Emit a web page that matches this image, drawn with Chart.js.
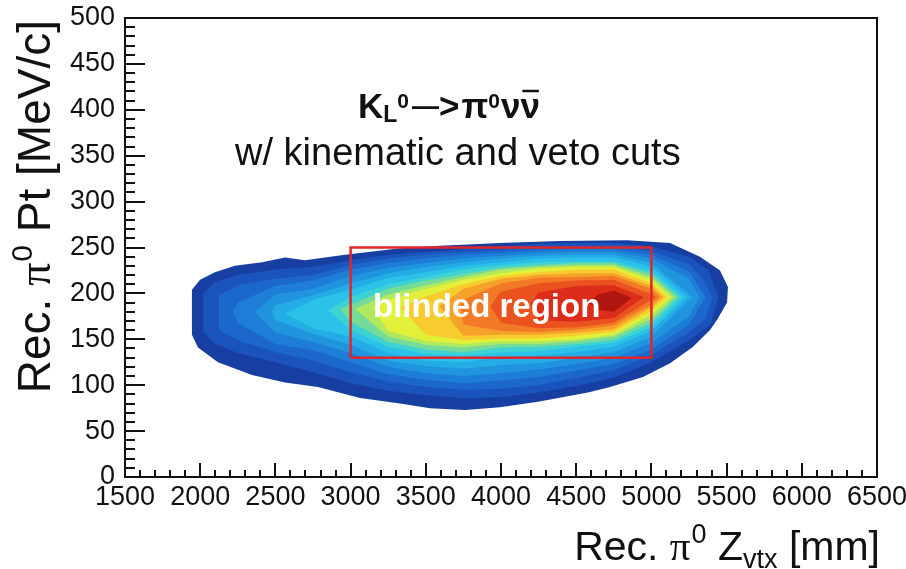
<!DOCTYPE html>
<html lang="en">
<head>
<meta charset="UTF-8">
<title>KL0 -> pi0 nu nubar, Pt vs Zvtx</title>
<script src="https://cdnjs.cloudflare.com/ajax/libs/Chart.js/4.4.0/chart.umd.min.js"></script>
<style>
  html, body { margin: 0; padding: 0; background: #fff; }
  .chart-container { position: relative; width: 906px; height: 569px; }
</style>
</head>
<body>
<div class="chart-container"><canvas id="chart"></canvas></div>
<script>
// axis ranges
const xRange = [1500, 6500];
const yRange = [0, 500];

// blinded box (Zvtx mm, Pt MeV/c)
const blindX = [3000, 5000];
const blindY = [130, 250];

// contour outlines, outermost first: [Zvtx, Pt]
const level01 = [[1945,204],[1999,215],[2098,223],[2231,230],[2411,234],[2564,239],[2697,236],[2963,242],[3315,249],[3594,252],[3993,255],[4392,257],[4838,258],[5124,255],[5323,240],[5456,225],[5509,207],[5503,190],[5436,171],[5390,160],[5277,142],[5124,124],[4944,109],[4725,98],[4578,92],[4246,82],[3993,76],[3761,73],[3528,75],[3328,80],[3063,86],[2783,98],[2564,103],[2344,111],[2118,125],[1985,141],[1945,155]];
const level02 = [[2020,200],[2100,213],[2250,220],[2500,226],[2750,229],[3000,236],[3250,242],[3500,245],[3750,248],[4000,251],[4250,254],[4500,255],[4750,255],[5000,251],[5250,240],[5380,225],[5445,196],[5395,166],[5250,149],[5000,125],[4750,108],[4500,99],[4250,92],[4000,87],[3750,86],[3500,89],[3250,94],[3000,102],[2750,114],[2500,125],[2250,135],[2100,145],[2020,158]];
const level03 = [[2125,198],[2250,209],[2500,216],[2750,220],[3000,231],[3250,238],[3500,242],[3750,245],[4000,247],[4250,250],[4500,252],[4750,252],[5000,246],[5250,232],[5345,215],[5405,196],[5360,172],[5250,158],[5000,133],[4750,116],[4500,108],[4250,100],[4000,96],[3750,95],[3500,98],[3250,104],[3000,114],[2750,127],[2500,136],[2250,149],[2125,160]];
const level04 = [[2215,180],[2250,190],[2500,208],[2750,214],[3000,226],[3250,233],[3500,238],[3750,242],[4000,244],[4250,247],[4500,248],[4750,248],[5000,242],[5250,224],[5360,196],[5250,166],[5000,139],[4750,123],[4500,116],[4250,109],[4000,105],[3750,102],[3500,106],[3250,112],[3000,125],[2750,138],[2500,145],[2250,168]];
const level05 = [[2364,180],[2500,199],[2750,205],[3000,219],[3250,228],[3500,233],[3750,238],[4000,241],[4250,244],[4500,245],[4750,245],[5000,238],[5250,216],[5320,196],[5250,175],[5000,146],[4750,130],[4500,123],[4250,117],[4000,113],[3750,110],[3500,113],[3250,120],[3000,135],[2750,147],[2500,157]];
const level06 = [[2477,180],[2500,187],[2750,198],[3000,211],[3250,222],[3500,229],[3750,234],[4000,238],[4250,241],[4500,242],[4750,242],[5000,233],[5270,196],[5000,153],[4750,136],[4500,130],[4250,124],[4000,122],[3750,118],[3500,121],[3250,127],[3000,144],[2750,156],[2500,171]];
const level07 = [[2564,178],[2750,193],[3000,204],[3250,217],[3500,223],[3750,230],[4000,234],[4250,238],[4500,239],[4750,239],[5000,229],[5235,196],[5000,159],[4750,142],[4500,136],[4250,132],[4000,131],[3750,125],[3500,127],[3250,135],[3000,153],[2750,162]];
const level08 = [[2850,182],[3000,196],[3250,210],[3500,218],[3750,226],[4000,231],[4250,234],[4500,235],[4750,235],[5000,224],[5205,196],[5000,163],[4750,146],[4500,142],[4250,137],[4000,136],[3750,132],[3500,134],[3250,142],[3000,160]];
const level09 = [[2930,183],[3000,188],[3250,205],[3500,214],[3750,221],[4000,228],[4250,231],[4500,233],[4750,233],[5000,221],[5180,196],[5000,168],[4750,149],[4500,145],[4250,142],[4000,141],[3750,136],[3500,139],[3250,147],[3000,169]];
const level10 = [[3029,183],[3250,199],[3500,209],[3750,218],[4000,226],[4250,229],[4500,231],[4750,231],[5000,218],[5155,196],[5000,172],[4750,153],[4500,148],[4250,145],[4000,145],[3750,141],[3500,144],[3250,153]];
const level11 = [[3150,184],[3250,193],[3500,205],[3750,215],[4000,222],[4250,227],[4500,229],[4750,229],[5000,215],[5130,196],[5000,177],[4750,155],[4500,150],[4250,148],[4000,148],[3750,145],[3500,148],[3250,159]];
const level12 = [[3330,185],[3500,197],[3750,210],[4000,219],[4250,223],[4500,226],[4750,226],[5000,211],[5105,196],[5000,181],[4750,158],[4500,154],[4250,151],[4000,151],[3750,149],[3500,155]];
const level13 = [[3590,186],[3750,205],[4000,216],[4250,220],[4500,222],[4750,222],[5000,208],[5080,196],[5000,185],[4750,161],[4500,157],[4250,155],[4000,155],[3750,154]];
const level14 = [[3730,187],[3750,193],[4000,211],[4250,217],[4500,218],[4750,219],[5000,205],[5055,196],[5000,188],[4750,165],[4500,160],[4250,158],[4000,159],[3750,166]];
const level15 = [[3930,186],[4000,202],[4250,211],[4500,214],[4750,215],[5000,199],[5030,196],[5000,193],[4750,168],[4500,163],[4250,162],[4000,168]];
const level16 = [[4200,189],[4250,201],[4500,208],[4750,209],[4950,196],[4750,173],[4500,169],[4250,171]];
const level17 = [[4580,190],[4650,199],[4750,203],[4870,195],[4750,180],[4650,182]];

const levelColors = [
  '#173fa2', '#1a53bc', '#1c67cb', '#1e7dd6', '#2095de', '#23ace5',
  '#2ac2e9', '#3fd2d2', '#74dc98', '#b0e95e', '#e2f03a', '#f8cc2e',
  '#f6a22a', '#f27a26', '#ea5220', '#dc2c1a', '#b01610'
];

const levels = [level01, level02, level03, level04, level05, level06, level07, level08, level09,
                level10, level11, level12, level13, level14, level15, level16, level17];

const SANS = '"Liberation Sans", Arial, Helvetica, sans-serif';
const SERIF = '"Liberation Serif", "Times New Roman", serif';

// fill each contour polygon from its point elements (positions come from the x/y scales)
const contourFill = {
  id: 'contourFill',
  beforeDatasetsDraw(chart) {
    const ctx = chart.ctx;
    chart.data.datasets.forEach((ds, i) => {
      if (!ds.contour) return;
      const pts = chart.getDatasetMeta(i).data;
      ctx.save();
      ctx.beginPath();
      pts.forEach((p, j) => j ? ctx.lineTo(p.x, p.y) : ctx.moveTo(p.x, p.y));
      ctx.closePath();
      ctx.fillStyle = ds.backgroundColor;
      ctx.fill();
      ctx.restore();
    });
  }
};

// draws a row of text pieces with their own font / vertical shift
function drawRuns(ctx, runs, x, y) {
  let cx = x;
  const spans = [];
  for (const r of runs) {
    ctx.font = r.font;
    const w = ctx.measureText(r.text).width;
    ctx.fillText(r.text, cx, y + (r.dy || 0));
    spans.push([cx, w]);
    cx += w + (r.gap || 0);
  }
  return spans;
}

function runsWidth(ctx, runs) {
  let w = 0;
  for (const r of runs) {
    ctx.font = r.font;
    w += ctx.measureText(r.text).width + (r.gap || 0);
  }
  return w;
}

const decayRuns = [
  { text: 'K', font: `bold 35px ${SANS}` },
  { text: 'L', font: `bold 23px ${SANS}`, dy: 4 },
  { text: '0', font: `bold 21px ${SANS}`, dy: -10, gap: 3 },
  { text: '\u2014', font: `bold 27px ${SANS}`, dy: -3 },
  { text: '>', font: `bold 35px ${SANS}`, gap: 2 },
  { text: '\u03c0', font: `bold 35px ${SANS}` },
  { text: '0', font: `bold 21px ${SANS}`, dy: -10, gap: 1 },
  { text: '\u03bd', font: `bold 35px ${SANS}` },
  { text: '\u03bd', font: `bold 35px ${SANS}` }
];

const yTitleRuns = [
  { text: 'Rec. ', font: `46px ${SANS}` },
  { text: '\u03c0', font: `46px ${SERIF}`, gap: 1 },
  { text: '0', font: `30px ${SANS}`, dy: -18 },
  { text: ' Pt [MeV/c]', font: `46px ${SANS}` }
];

const xTitleRuns = [
  { text: 'Rec. ', font: `41px ${SANS}` },
  { text: '\u03c0', font: `41px ${SERIF}`, gap: 1 },
  { text: '0', font: `27px ${SANS}`, dy: -17 },
  { text: ' Z', font: `41px ${SANS}` },
  { text: 'vtx', font: `27px ${SANS}`, dy: 8 },
  { text: ' [mm]', font: `41px ${SANS}` }
];

// inward tick marks along the bottom and left edges, at the scales' own tick values
function drawTickMarks(ctx, scale, len, area) {
  ctx.beginPath();
  scale.ticks.forEach(t => {
    const p = Math.round(scale.getPixelForValue(t.value));
    if (scale.isHorizontal()) {
      ctx.moveTo(p, area.bottom);
      ctx.lineTo(p, area.bottom - len);
    } else {
      ctx.moveTo(area.left, p);
      ctx.lineTo(area.left + len, p);
    }
  });
  ctx.stroke();
}

const annotations = {
  id: 'annotations',
  afterDatasetsDraw(chart) {
    const ctx = chart.ctx;
    ctx.save();
    ctx.textBaseline = 'alphabetic';
    ctx.textAlign = 'left';

    ctx.fillStyle = '#ffffff';
    ctx.font = `bold 33px ${SANS}`;
    ctx.fillText('blinded region', 373, 317);

    ctx.fillStyle = '#111';
    const spans = drawRuns(ctx, decayRuns, 358, 118);
    const [bx, bw] = spans[spans.length - 1];
    ctx.strokeStyle = '#111';
    ctx.lineWidth = 2.5;
    ctx.beginPath();
    ctx.moveTo(bx + 2, 91);
    ctx.lineTo(bx + bw - 1, 91);
    ctx.stroke();

    ctx.font = `38px ${SANS}`;
    ctx.fillText('w/ kinematic and veto cuts', 235, 165);
    ctx.restore();
  },
  afterDraw(chart) {
    const ctx = chart.ctx;
    const area = chart.chartArea;
    const s = chart.scales;
    ctx.save();
    ctx.fillStyle = '#111';
    ctx.strokeStyle = '#111';
    ctx.textBaseline = 'alphabetic';
    ctx.textAlign = 'left';

    // frame and ticks
    ctx.lineWidth = 2;
    ctx.strokeRect(area.left, area.top, area.right - area.left, area.bottom - area.top);
    drawTickMarks(ctx, s.x, 14, area);
    drawTickMarks(ctx, s.xMinor, 7, area);
    drawTickMarks(ctx, s.y, 20, area);
    drawTickMarks(ctx, s.yMinor, 10, area);

    // x title, right-aligned to the end of the axis
    const xw = runsWidth(ctx, xTitleRuns);
    drawRuns(ctx, xTitleRuns, area.right + 3 - xw, 560);

    // y title, rotated, ending at the top of the axis
    const yw = runsWidth(ctx, yTitleRuns);
    ctx.translate(50, area.top + 2 + yw);
    ctx.rotate(-Math.PI / 2);
    drawRuns(ctx, yTitleRuns, 0, 0);
    ctx.restore();
  }
};

const datasets = [
  {
    type: 'line',
    data: [
      { x: blindX[0], y: blindY[0] }, { x: blindX[1], y: blindY[0] },
      { x: blindX[1], y: blindY[1] }, { x: blindX[0], y: blindY[1] },
      { x: blindX[0], y: blindY[0] }
    ],
    borderColor: '#e0252b',
    borderWidth: 2.5,
    pointRadius: 0,
    fill: false,
    tension: 0,
    xAxisID: 'x',
    yAxisID: 'y'
  }
].concat(levels.map((lvl, i) => ({
  contour: true,
  data: lvl.map(([x, y]) => ({ x, y })),
  backgroundColor: levelColors[i],
  pointRadius: 0,
  showLine: false,
  xAxisID: 'x',
  yAxisID: 'y'
})));

const tickFont = { family: SANS, size: 27 };
const noGrid = { display: false, drawTicks: false };

new Chart(document.getElementById('chart'), {
  type: 'scatter',
  data: { datasets },
  options: {
    responsive: true,
    maintainAspectRatio: false,
    animation: false,
    events: [],
    layout: { padding: { top: 18, right: 29, left: 0, bottom: 0 } },
    plugins: { legend: { display: false }, tooltip: { enabled: false } },
    scales: {
      x: {
        type: 'linear', position: 'bottom', weight: 1,
        min: xRange[0], max: xRange[1],
        ticks: { stepSize: 500, font: tickFont, color: '#111', padding: 4, maxRotation: 0, autoSkip: false,
                 callback: v => String(v) },
        grid: noGrid,
        border: { display: false },
        afterFit: s => { s.height = 92; s.paddingLeft = 0; s.paddingRight = 0; }
      },
      xMinor: {
        type: 'linear', position: 'bottom', weight: 0,
        min: xRange[0], max: xRange[1],
        ticks: { stepSize: 100, display: false, autoSkip: false },
        grid: noGrid,
        border: { display: false },
        afterFit: s => { s.height = 0; s.paddingLeft = 0; s.paddingRight = 0; }
      },
      y: {
        type: 'linear', position: 'left', weight: 1,
        min: yRange[0], max: yRange[1],
        ticks: { stepSize: 50, font: tickFont, color: '#111', padding: 10, autoSkip: false,
                 callback: v => String(v) },
        grid: noGrid,
        border: { display: false },
        afterFit: s => { s.width = 125; s.paddingTop = 0; s.paddingBottom = 0; }
      },
      yMinor: {
        type: 'linear', position: 'left', weight: 0,
        min: yRange[0], max: yRange[1],
        ticks: { stepSize: 10, display: false, autoSkip: false },
        grid: noGrid,
        border: { display: false },
        afterFit: s => { s.width = 0; s.paddingTop = 0; s.paddingBottom = 0; }
      }
    }
  },
  plugins: [contourFill, annotations]
});
</script>
</body>
</html>
